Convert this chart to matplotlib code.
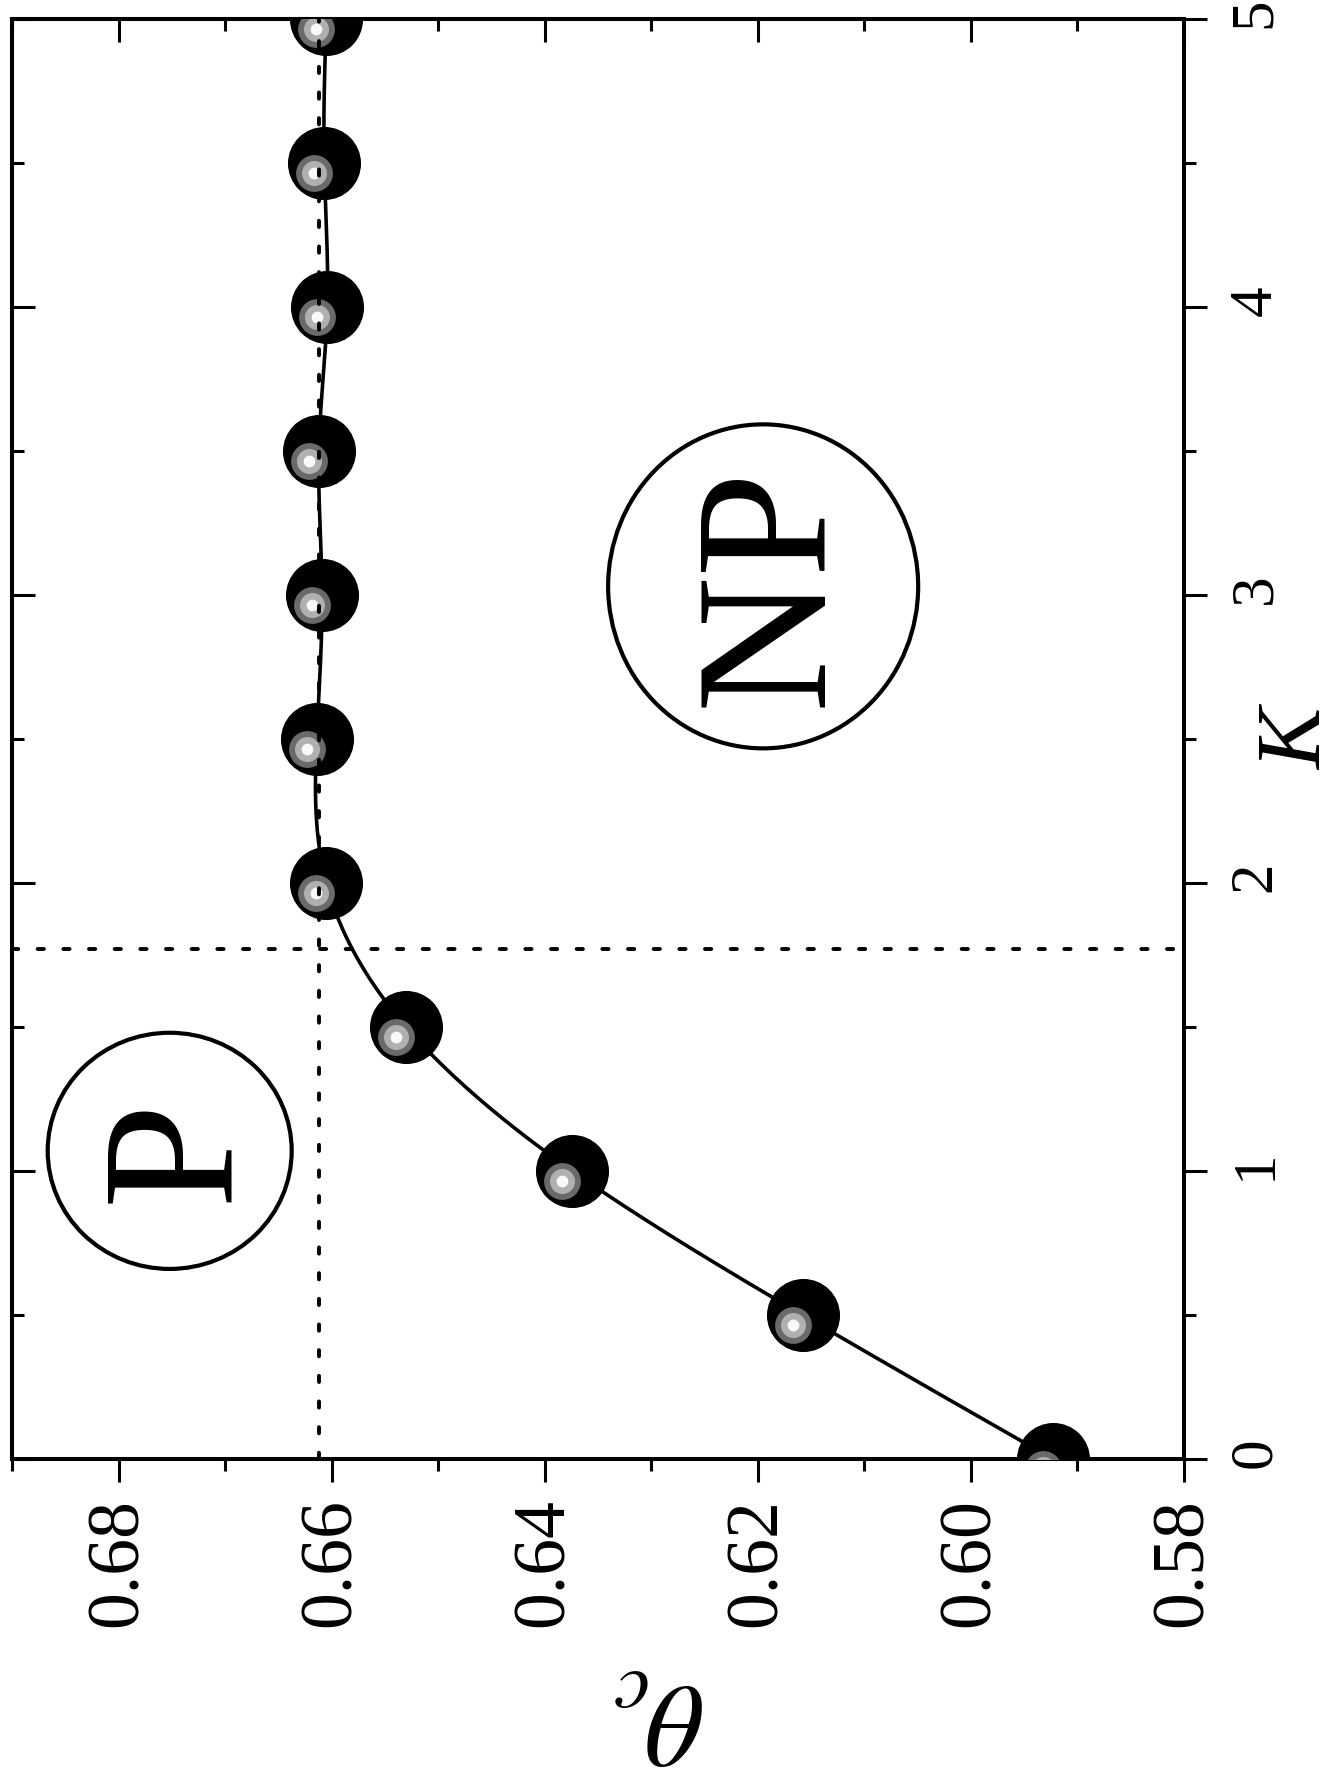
import numpy as np
import matplotlib.pyplot as plt
from matplotlib import transforms
from matplotlib.patches import Ellipse
from matplotlib.ticker import MultipleLocator, FormatStrFormatter

# critical coverage vs. K
k_vals = [0.0, 0.5, 1.0, 1.5, 2.0, 2.5, 3.0, 3.5, 4.0, 4.5, 5.0]
theta_c = [0.5923, 0.6158, 0.6374, 0.6530, 0.6605, 0.6614, 0.6609, 0.6612, 0.6604, 0.6607, 0.6605]

# guide lines
theta_inf = 0.6612
k_cross = 1.77

# phase labels: (text, theta, K, circle width in theta, circle height in K)
phase_text = ["P", "NP"]
phase_theta = [0.6752, 0.6195]
phase_k = [1.07, 3.03]
circle_w = [0.0229, 0.0291]
circle_h = [0.82, 1.125]

plt.rcParams['font.family'] = 'Liberation Serif'
plt.rcParams['mathtext.fontset'] = 'stix'


def natural_spline(x, y, xs):
    x = np.asarray(x, float)
    y = np.asarray(y, float)
    n = len(x)
    h = np.diff(x)
    A = np.zeros((n, n))
    r = np.zeros(n)
    A[0, 0] = A[-1, -1] = 1
    for i in range(1, n - 1):
        A[i, i - 1] = h[i - 1]
        A[i, i] = 2 * (h[i - 1] + h[i])
        A[i, i + 1] = h[i]
        r[i] = 6 * ((y[i + 1] - y[i]) / h[i] - (y[i] - y[i - 1]) / h[i - 1])
    m = np.linalg.solve(A, r)
    idx = np.clip(np.searchsorted(x, xs) - 1, 0, n - 2)
    t0, t1 = x[idx], x[idx + 1]
    hh = t1 - t0
    a = (t1 - xs) / hh
    b = (xs - t0) / hh
    return a * y[idx] + b * y[idx + 1] + ((a**3 - a) * m[idx] + (b**3 - b) * m[idx + 1]) * hh**2 / 6


fig = plt.figure(figsize=(13.37, 17.79), dpi=100)
ax = fig.add_axes([12 / 1337, 1 - 1459 / 1779, 1172 / 1337, 1440 / 1779])

# smooth curve through the points
k_fine = np.linspace(k_vals[0], k_vals[-1], 400)
ax.plot(natural_spline(k_vals, theta_c, k_fine), k_fine, color='black', lw=2.6, zorder=2)

# shaded ball markers
ax.plot(theta_c, k_vals, 'o', color='black', ms=52.6, mec='none', zorder=3)
shift = transforms.offset_copy(ax.transData, fig=fig, x=-10, y=-10, units='dots')
for ms, col in [(26.5, '#6a6a6a'), (18, '#b0b0b0'), (8.5, '#f8f8f8')]:
    ax.plot(theta_c, k_vals, 'o', color=col, ms=ms, mec='none', transform=shift, zorder=4)

# dotted guides
dots = (0, (1.6, 5.0))
ax.axvline(theta_inf, color='black', lw=2.8, linestyle=dots, dash_capstyle='round', zorder=5)
ax.axhline(k_cross, color='black', lw=2.8, linestyle=dots, dash_capstyle='round', zorder=5)

# phase labels; text nudged so the capitals sit centred in the rings
for txt, th, kk, w, h in zip(phase_text, phase_theta, phase_k, circle_w, circle_h):
    ax.add_patch(Ellipse((th, kk), w, h, fill=False, lw=3, ec='black', zorder=6))
    ax.text(th - 0.0011, kk, txt, rotation=90, ha='center', va='center',
            fontsize=136, zorder=7)

ax.set_xlim(0.69, 0.58)
ax.set_ylim(0, 5)

for sp in ax.spines.values():
    sp.set_linewidth(2.9)

ax.xaxis.set_major_locator(MultipleLocator(0.02))
ax.xaxis.set_minor_locator(MultipleLocator(0.01))
ax.xaxis.set_major_formatter(FormatStrFormatter('%.2f'))
ax.yaxis.set_major_locator(MultipleLocator(1))
ax.yaxis.set_minor_locator(MultipleLocator(0.5))
ax.yaxis.tick_right()
ax.tick_params(axis='x', which='both', direction='out', bottom=True, top=False,
               labelrotation=90, labelsize=53, pad=11.5, width=2.2)
ax.tick_params(axis='y', which='both', direction='out', left=False, right=True,
               labelrotation=90, labelsize=44, pad=15, width=2.2)
ax.tick_params(which='major', length=16.5)
ax.tick_params(which='minor', length=8.6)

# inward ticks on the opposite sides
top = ax.secondary_xaxis('top')
top.xaxis.set_major_locator(MultipleLocator(0.02))
top.xaxis.set_minor_locator(MultipleLocator(0.01))
top.tick_params(which='both', direction='in', labeltop=False, width=2.2)
top.tick_params(which='major', length=16.5)
top.tick_params(which='minor', length=8.6)
top.spines['top'].set_linewidth(2.9)

left = ax.secondary_yaxis('left')
left.yaxis.set_major_locator(MultipleLocator(1))
left.yaxis.set_minor_locator(MultipleLocator(0.5))
left.tick_params(which='both', direction='in', labelleft=False, width=2.2)
left.tick_params(which='major', length=16.5)
left.tick_params(which='minor', length=8.6)
left.spines['left'].set_linewidth(2.9)

ax.yaxis.set_label_position('right')
ax.set_ylabel('K', fontstyle='italic', fontsize=66)
ax.yaxis.label.set_rotation(90)
ax.yaxis.label.set_rotation_mode('default')
ax.yaxis.label.set_ha('center')
ax.yaxis.label.set_va('center')
ax.yaxis.set_label_coords(1.098, 0.5)

ax.set_xlabel(r'$\theta_c$', fontsize=84, rotation=180, ha='center', va='center')
ax.xaxis.set_label_coords(0.553, -0.176)

fig.savefig('out.png', dpi=100)
